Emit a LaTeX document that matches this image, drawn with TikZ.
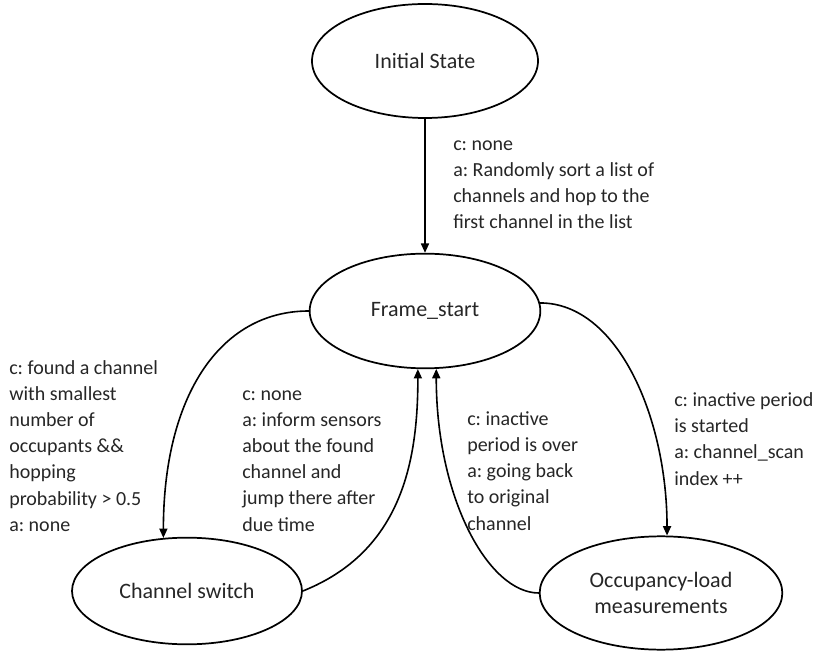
\documentclass[tikz,border=0pt]{standalone}
\usepackage{fontspec}
\setmainfont{Carlito}
\usetikzlibrary{shapes.geometric}
\usetikzlibrary{arrows.meta}
\usetikzlibrary{positioning}

\begin{document}
\frenchspacing
\begin{tikzpicture}[
    x=0.75pt, y=-0.75pt,
    every node/.style = {text=black!85},
    state/.style = {ellipse, draw, line width=1.3pt, inner sep=0pt, align=center,
        font=\fontsize{16.5}{19.6}\selectfont},
    trans/.style = {line width=1.2pt, -{Triangle[width=6pt,length=7pt]}},
    cond/.style = {inner sep=0pt, align=left, anchor=west,
        font=\fontsize{15}{19.6}\selectfont},
    ]
    \useasboundingbox (0,0) rectangle (817,655);
    \node[state, minimum width=169.5pt, minimum height=85.5pt] (state-init) at (425,61) {Initial State};
    \node[state, minimum width=173pt, minimum height=86pt] (state-frame) at (425,311) {Frame\_start};
    \node[state, minimum width=172.5pt, minimum height=80pt] (state-switch) at (187,591) {Channel switch};
    \node[state, minimum width=182pt, minimum height=85pt] (state-occ) at (661,593) {Occupancy-load\\measurements};

    \draw[trans] (state-init.south) -- (state-frame.north);
    \draw[trans] (state-frame.west) .. controls +(-90,0) and +(0,-140) .. (state-switch.114);
    \draw[trans] (state-switch.east) .. controls +(100,-40) and +(0,90) .. (state-frame.263);
    \draw[trans] (state-occ.west) .. controls +(-50,0) and +(0,130) .. (state-frame.281);
    \draw[trans] (state-frame.4) .. controls +(78,0) and +(0,-117) .. (state-occ.84);

    \node[cond] (text-init) at (453,185) {c: none\\a: Randomly sort a list of\\channels and hop to the\\first channel in the list};
    \node[cond] (text-found) at (9,446) {c: found a channel\\with smallest\\number of\\occupants \&\&\\hopping\\probability > 0.5\\a: none};
    \node[cond] (text-inform) at (242,461) {c: none\\a: inform sensors\\about the found\\channel and\\jump there after\\due time};
    \node[cond] (text-over) at (467,471) {c: inactive\\period is over\\a: going back\\to original\\channel};
    \node[cond] (text-start) at (674,439) {c: inactive period\\is started\\a: channel\_scan\\index ++};
\end{tikzpicture}
\end{document}
